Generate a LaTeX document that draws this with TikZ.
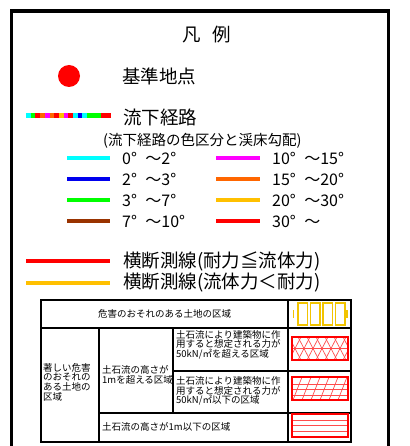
\documentclass[tikz,border=0pt]{standalone}
\usepackage{fontspec}
\setmainfont{Noto Sans CJK JP}
\usepackage{tikz}
\definecolor{gcyan}{HTML}{00FFFF}
\definecolor{gblue}{HTML}{0000EE}
\definecolor{ggreen}{HTML}{00FF00}
\definecolor{gbrown}{HTML}{993300}
\definecolor{gmagenta}{HTML}{FF00FF}
\definecolor{gorange}{HTML}{FF6600}
\definecolor{ggold}{HTML}{FFC000}
\definecolor{gred}{HTML}{FF0000}
\definecolor{gyellow}{HTML}{F2C400}
\newcommand{\dg}{\makebox[0.9em][l]{°}}

\begin{document}
\begin{tikzpicture}[
    x                  = 1pt,
    y                  = -1pt,
    every node/.style  = {inner sep=0pt, anchor=west},
    big label/.style   = {font=\fontsize{18.5}{20}\selectfont},
    grad label/.style  = {font=\fontsize{16}{18}\selectfont},
    cell text/.style   = {font=\fontsize{9.5}{9.6}\selectfont, align=left},
    grad line/.style   = {line width=4.5pt},
    table rule/.style  = {line width=1.2pt},
    pat box/.style     = {draw=gred, line width=1.8pt},
    pat line/.style    = {gred!70, line width=0.7pt}
  ]
\useasboundingbox (0,0) rectangle (409,446);
\draw[line width=3.5pt] (11.5,446) -- (11.5,11) -- (388.5,11) -- (388.5,446);

\node[anchor=center, big label] (title) at (207,35) {凡\hspace{0.6em}例};

\fill[gred] (69,76) circle (11);
\node[big label] (refpt) at (122,76) {基準地点};

\foreach \c [count=\i] in {gcyan,ggreen,gred,gorange,gmagenta,gorange,gred,ggold,gmagenta,gred,gcyan,gblue,gcyan,ggreen,ggreen,ggreen,gred,gred}
  \draw[line width=5pt, \c] ({26+(\i-1)*4.7},116) -- ({26+\i*4.7},116);
\node[big label] (flow) at (123,117) {流下経路};
\node[font=\fontsize{14.5}{16}\selectfont] (flownote) at (103,141) {(流下経路の色区分と渓床勾配)};

\foreach \c/\t [count=\i] in {gcyan/0\dg～2\dg, gblue/2\dg～3\dg, ggreen/3\dg～7\dg, gbrown/7\dg～10\dg}{
  \draw[grad line, \c] (67,{137+21*\i}) -- (110,{137+21*\i});
  \node[grad label] (left\i) at (122,{137+21*\i}) {\t};
}
\foreach \c/\t [count=\i] in {gmagenta/10\dg～15\dg, gorange/15\dg～20\dg, ggold/20\dg～30\dg, gred/30\dg～}{
  \draw[grad line, \c] (216,{137+21*\i}) -- (260,{137+21*\i});
  \node[grad label] (right\i) at (272,{137+21*\i}) {\t};
}

\draw[line width=3.5pt, gred] (26,261) -- (110,261);
\node[big label] (secred) at (123,261) {横断測線(耐力≦流体力)};
\draw[line width=3.5pt, ggold] (26,283) -- (110,283);
\node[big label] (secgold) at (123,283) {横断測線(流体力＜耐力)};

\draw[table rule] (41,300) rectangle (351,442);
\draw[table rule] (41,328) -- (351,328);
\draw[table rule] (99,328) -- (99,442);
\draw[table rule] (288,300) -- (288,442);
\draw[table rule] (173,328) -- (173,413);
\draw[table rule] (173,371) -- (351,371);
\draw[table rule] (99,413) -- (351,413);

\node[cell text, anchor=center] (danger) at (164.5,314) {危害のおそれのある土地の区域};
\node[cell text] (severe) at (43,382) {著しい危害\\のおそれの\\ある土地の\\区域};
\node[cell text] (overone) at (102,375) {土石流の高さが\\1mを超える区域};
\node[cell text] (overkn) at (176,344.5) {土石流により建築物に作\\用すると想定される力が\\50kN/㎡を超える区域};
\node[cell text] (underkn) at (176,391) {土石流により建築物に作\\用すると想定される力が\\50kN/㎡以下の区域};
\node[cell text] (underone) at (102,427) {土石流の高さが1m以下の区域};

\draw[gyellow, line width=1.5pt] (293.5,310) -- (293.5,318);
\foreach \x in {298,310.5,323,335.5}
  \draw[gyellow, line width=1.3pt] (\x,303) rectangle ++(9.5,22);
\draw[gyellow, line width=1.5pt] (347,310) -- (347,318);

\begin{scope}
  \clip (292,337) rectangle (348,360);
  \foreach \x in {280,289,...,352}{
    \draw[pat line] (\x,337) -- ++(12,23);
    \draw[pat line] ({\x+12},337) -- ++(-12,23);
  }
  \draw[pat line] (292,348.5) -- (348,348.5);
\end{scope}
\draw[pat box] (292,337) rectangle (348,360);

\begin{scope}
  \clip (292,377) rectangle (348,400);
  \foreach \x in {284,293,...,350}
    \draw[pat line] (\x,400) -- ++(9,-23);
  \foreach \y in {384,389.5,395}
    \draw[pat line] (292,\y) -- (348,\y);
\end{scope}
\draw[pat box] (292,377) rectangle (348,400);

\foreach \y in {420,425.5,431}
  \draw[pat line] (292,\y) -- (348,\y);
\draw[pat box] (292,414) rectangle (348,437);
\end{tikzpicture}
\end{document}
